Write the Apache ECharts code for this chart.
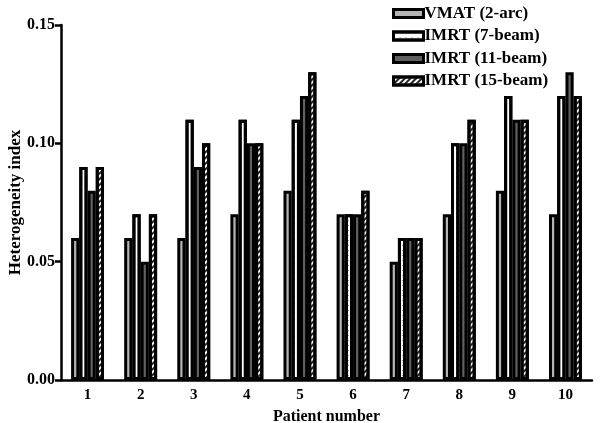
<!DOCTYPE html>
<html><head><meta charset="utf-8">
<script src="https://cdn.jsdelivr.net/npm/echarts@6/dist/echarts.min.js"></script>
<style>html,body{margin:0;padding:0;background:#fff}#c{width:600px;height:423px}</style>
</head><body><div id="c"></div>
<script>
const categories = ['1','2','3','4','5','6','7','8','9','10'];
const vmat2arc = [0.06,0.06,0.06,0.07,0.08,0.07,0.05,0.07,0.08,0.07];
const imrt7 = [0.09,0.07,0.11,0.11,0.11,0.07,0.06,0.10,0.12,0.12];
const imrt11 = [0.08,0.05,0.09,0.10,0.12,0.07,0.06,0.10,0.11,0.13];
const imrt15 = [0.09,0.07,0.10,0.10,0.13,0.08,0.06,0.11,0.11,0.12];
const seriesNames = ['VMAT (2-arc)','IMRT (7-beam)','IMRT (11-beam)','IMRT (15-beam)'];

const font = 'Liberation Serif';
const chart = echarts.init(document.getElementById('c'), null, {renderer:'canvas'});
const border = {borderColor:'#000', borderWidth:3};
const styles = [
  Object.assign({color:'#b4b4b4'}, border),
  Object.assign({color:'#ffffff', decal:{symbol:'rect', symbolSize:1, color:'#999', dashArrayX:[[1,5]], dashArrayY:[1,4], rotation:0}}, border),
  Object.assign({color:'#606060'}, border),
  Object.assign({color:'#ffffff', decal:{symbol:'rect', symbolSize:1, color:'#222', dashArrayX:[[1,0]], dashArrayY:[1.2,2], rotation:-Math.PI/4}}, border)
];
const data = [vmat2arc, imrt7, imrt11, imrt15];
chart.setOption({
  animation:false,
  textStyle:{fontFamily:font},
  legend:{
    orient:'vertical', left:387, top:0, itemWidth:30, itemHeight:8, itemGap:5.5,
    icon:'rect', align:'left',
    itemStyle:{borderColor:'#000', borderWidth:3},
    textStyle:{fontFamily:font, fontWeight:'bold', fontSize:17, color:'#000', padding:[0,0,0,-4]},
    data:seriesNames
  },
  grid:{left:61, right:8, top:25, bottom:43, outerBoundsMode:'none'},
  xAxis:{
    type:'category', data:categories,
    name:'Patient number', nameLocation:'middle', nameGap:29, nameMoveOverlap:false,
    nameTextStyle:{fontFamily:font, fontWeight:'bold', fontSize:16, color:'#000'},
    axisLine:{lineStyle:{color:'#000', width:2.5}},
    axisTick:{alignWithLabel:true, length:6, lineStyle:{color:'#000', width:2.5}},
    axisLabel:{fontFamily:font, fontWeight:'bold', fontSize:15, color:'#000', margin:8}
  },
  yAxis:{
    type:'value', min:0, max:0.15, interval:0.05,
    name:'Heterogeneity index', nameLocation:'middle', nameGap:37, nameMoveOverlap:false,
    nameTextStyle:{fontFamily:font, fontWeight:'bold', fontSize:17, color:'#000'},
    axisLine:{show:true, lineStyle:{color:'#000', width:2.5}},
    axisTick:{show:true, length:6, lineStyle:{color:'#000', width:2.5}},
    splitLine:{show:false},
    axisLabel:{fontFamily:font, fontWeight:'bold', fontSize:16, color:'#000', margin:6,
      formatter:v=>v.toFixed(2)}
  },
  series: seriesNames.map((n,i)=>({
    name:n, type:'bar', data:data[i], barGap:'0%', barCategoryGap:'38%',
    itemStyle:styles[i]
  }))
});
</script></body></html>
